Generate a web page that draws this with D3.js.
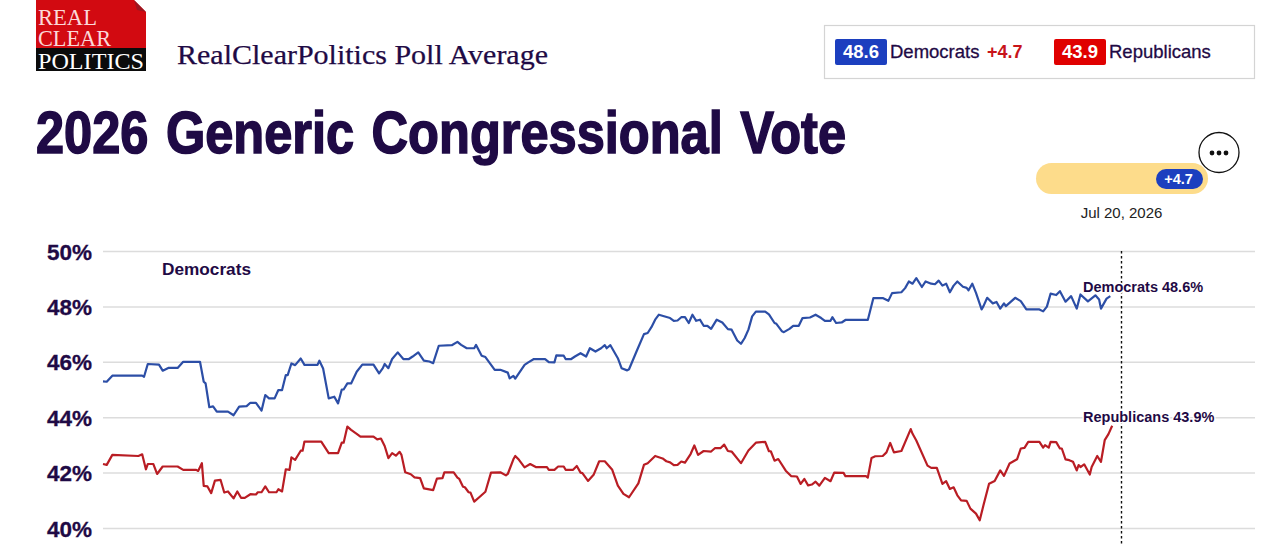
<!DOCTYPE html>
<html>
<head>
<meta charset="utf-8">
<script src="https://cdn.jsdelivr.net/npm/d3@7"></script>
<style>
  html, body { margin: 0; background: #fff; overflow: hidden; }
  text { font-family: "Liberation Sans", sans-serif; fill: #1f0a45; }
  .grid line { stroke: #dcdcdc; stroke-width: 1.5; }
  .grid path { display: none; }
  .grid text { font-size: 22.5px; font-weight: bold; stroke: #1f0a45; stroke-width: 0.3px; }
  .endlabel { font-size: 14.5px; font-weight: bold; paint-order: stroke; stroke: #fff; stroke-width: 3px; }
</style>
</head>
<body>
<div id="chart"></div>
<script>
const yTicks = [40, 42, 44, 46, 48, 50];

// days since the start of the series, and the average on that day
const demDays = [0,2,5,21,22,24,30,32,35,40,43,52,54,55,57,59,61,67,70,73,77,79,82,85,87,89,92,94,96,98,99,101,103,106,108,115,116,118,121,124,126,128,129,131,133,136,139,145,148,150,151,153,155,158,161,164,166,169,172,175,177,180,187,190,192,195,199,200,203,205,210,213,217,218,220,221,226,228,231,237,239,242,243,247,248,251,253,256,259,261,264,267,269,270,272,276,278,281,282,286,290,292,294,296,298,304,306,308,310,312,314,316,318,320,322,324,326,329,332,335,337,340,342,344,346,348,350,355,357,360,361,364,365,368,370,373,375,379,382,385,387,390,391,393,396,398,410,413,418,421,423,428,430,432,434,436,439,441,444,446,448,450,452,454,456,458,461,463,464,466,468,471,472,474,477,479,481,483,484,489,492,495,502,504,506,508,511,513,516,519,522,524,528,532,534,535,538,540];
const demValues = [45.29,45.28,45.5,45.5,45.46,45.92,45.9,45.68,45.78,45.78,46,46,45.28,45.22,44.36,44.39,44.2,44.2,44.07,44.38,44.4,44.52,44.52,44.24,44.8,44.68,44.68,44.98,44.98,45.52,45.52,45.94,45.88,46.12,45.89,45.89,46.04,45.76,44.68,44.74,44.5,45,45,45.22,45.22,45.64,45.9,45.9,45.58,45.77,45.92,45.77,46.1,46.34,46.1,46.1,46.19,46.34,46.04,46.01,45.95,46.58,46.6,46.72,46.61,46.49,46.49,46.61,46.22,46.17,45.71,45.71,45.61,45.4,45.49,45.39,45.89,45.98,46.1,46.1,45.99,45.98,46.23,46.22,46.1,46.1,46.19,46.31,46.19,46.49,46.37,46.49,46.6,46.49,46.6,46.13,45.77,45.69,45.73,46.37,47,47.04,47.25,47.52,47.7,47.58,47.48,47.49,47.61,47.61,47.4,47.7,47.48,47.52,47.3,47.3,47.19,47.52,47.42,47.18,47.16,46.77,46.65,46.86,47.16,47.64,47.81,47.81,47.71,47.4,47.37,47.1,47.07,47.19,47.3,47.3,47.58,47.6,47.7,47.58,47.48,47.48,47.61,47.4,47.42,47.51,47.51,48.3,48.3,48.2,48.48,48.51,48.66,48.9,48.82,49.02,48.7,48.9,48.82,48.8,48.93,48.75,48.82,48.51,48.75,48.9,48.71,48.67,48.58,48.82,48.49,47.89,48.01,48.31,48.11,48.16,47.92,48.11,48.01,48.31,48.19,47.89,47.89,47.82,47.99,48.46,48.41,48.55,48.17,48.37,47.92,48.43,48.18,48.4,48.25,47.92,48.28,48.37];

const repDays = [0,2,5,19,21,23,24,27,29,32,40,43,50,51,53,54,56,58,60,63,65,67,70,72,74,76,79,82,83,85,87,89,93,94,96,98,100,101,103,106,107,108,117,121,126,128,129,131,133,136,138,145,147,149,151,153,155,157,159,160,162,165,167,170,172,177,179,182,183,188,190,191,193,194,196,197,199,202,205,208,213,216,217,220,221,223,226,229,232,238,239,242,244,247,248,252,254,256,257,260,263,266,269,273,276,279,282,287,290,292,296,300,302,304,306,308,310,312,315,317,319,322,326,328,331,333,335,337,342,346,350,355,357,358,360,362,366,369,372,374,376,378,380,382,384,387,390,392,397,398,409,410,412,414,418,420,422,424,428,433,434,436,442,444,447,450,452,454,456,458,460,463,465,468,470,472,475,478,481,483,486,490,492,494,496,502,504,505,507,508,511,513,514,516,518,520,522,523,524,526,529,530,533,535,537,539,541];
const repValues = [42.31,42.28,42.64,42.6,42.66,42.12,42.31,42.31,41.95,42.22,42.22,42.1,42.1,42.06,42.34,41.52,41.5,41.26,41.71,41.74,41.28,41.32,41.07,41.32,41.09,41.09,41.22,41.21,41.29,41.29,41.5,41.29,41.29,41.4,41.32,42.12,42.1,42.55,42.46,42.79,42.79,43.12,43.12,42.7,42.7,43.08,43.08,43.66,43.54,43.4,43.3,43.3,43.2,43.23,42.96,42.52,42.7,42.61,42.75,42.64,42.01,41.94,41.83,41.8,41.43,41.37,41.78,41.8,42.01,42.01,41.82,41.77,41.49,41.47,41.29,41.28,40.95,41.13,41.31,42,42.01,41.9,41.95,42.48,42.6,42.46,42.19,42.31,42.2,42.2,42.1,42.1,42.22,42.22,42.1,42.1,42.24,42,41.98,41.7,41.92,42.41,42.41,42.1,41.53,41.23,41.11,41.61,42.28,42.34,42.6,42.51,42.41,42.37,42.27,42.28,42.4,42.36,42.67,42.98,42.64,42.78,42.76,42.88,42.88,43.01,42.78,42.76,42.34,42.8,43.08,43.11,42.77,42.77,42.43,42.49,42.07,41.87,41.86,41.59,41.77,41.54,41.57,41.67,41.53,41.81,41.69,42,41.99,41.87,41.87,41.82,42.53,42.59,42.6,42.73,43.07,42.73,42.78,43.57,43.4,43.16,42.25,42.17,42.17,41.59,41.69,41.41,41.47,41.18,41,40.98,40.7,40.52,40.28,40.82,41.6,41.7,42.08,41.88,42.33,42.48,42.87,42.89,43.11,43.11,42.9,42.99,42.9,43.11,43.1,42.87,42.87,42.48,42.45,42.39,42.08,42.27,42.2,42.3,41.93,42.2,42.6,42.39,43.17,43.39,43.69];

const startDate = new Date(2025, 0, 20);
const endDate = new Date(2026, 6, 20);
const demLatest = 48.6;
const repLatest = 43.9;
const spread = '+4.7';

const width = 1280;
const height = 544;
const navy = '#1f0a45';
const blue = '#1c3fbf';
const red = '#e00000';

const svg = d3.select('#chart')
  .append('svg')
    .attr('width', width)
    .attr('height', height)
    .style('display', 'block');

const x = d3.scaleTime().domain([startDate, endDate]).range([103, 1121.5]);
const y = d3.scaleLinear().domain([40, 50]).range([528, 251]);

// logo
const logo = svg.append('g');
logo.append('path')
  .attr('d', 'M36,0H134L146,12V48H36Z')
  .attr('fill', '#d20a11');
logo.append('path')
  .attr('d', 'M134,0L146,12L137,10Z')
  .attr('fill', '#9c1620');
logo.append('rect').attr('x', 36).attr('y', 48).attr('width', 110).attr('height', 23).attr('fill', '#0b0b0b');
[['REAL', 25, 59, '#fbd9d9'], ['CLEAR', 46, 73, '#fbd9d9'], ['POLITICS', 69, 106, '#fff']].forEach(d => {
  logo.append('text')
    .attr('x', 38).attr('y', d[1])
    .attr('textLength', d[2])
    .attr('lengthAdjust', 'spacingAndGlyphs')
    .style('font-family', '"Liberation Serif", serif')
    .style('font-size', '24px')
    .style('fill', d[3])
    .text(d[0]);
});

svg.append('text')
  .attr('x', 177).attr('y', 64)
  .attr('textLength', 371)
  .attr('lengthAdjust', 'spacingAndGlyphs')
  .style('font-family', '"Liberation Serif", serif')
  .style('font-size', '28px')
  .style('stroke', navy)
  .style('stroke-width', '0.25px')
  .text('RealClearPolitics Poll Average');

svg.append('text')
  .attr('x', 36).attr('y', 153)
  .attr('textLength', 810)
  .attr('lengthAdjust', 'spacingAndGlyphs')
  .style('font-family', '"Liberation Sans Narrow", "Liberation Sans", sans-serif')
  .style('font-size', '60px')
  .style('font-weight', 'bold')
  .style('word-spacing', '4px')
  .style('stroke', navy)
  .style('stroke-width', '1.6px')
  .text('2026 Generic Congressional Vote');

// legend box
const legend = svg.append('g');
legend.append('rect')
  .attr('x', 824.5).attr('y', 25.5).attr('width', 430).attr('height', 53)
  .attr('fill', '#fff').attr('stroke', '#d4d4d4').attr('stroke-width', 1.2);

function badge(xPos, fill, value) {
  legend.append('rect')
    .attr('x', xPos).attr('y', 39).attr('width', 52).attr('height', 26).attr('rx', 2)
    .attr('fill', fill);
  legend.append('text')
    .attr('x', xPos + 26).attr('y', 58)
    .attr('text-anchor', 'middle')
    .style('font-size', '18.5px').style('font-weight', 'bold').style('fill', '#fff')
    .text(value.toFixed(1));
}
badge(835, blue, demLatest);
badge(1054, red, repLatest);

legend.append('text').attr('x', 890).attr('y', 58).style('font-size', '18.5px').style('stroke', navy).style('stroke-width', '0.3px').text('Democrats');
legend.append('text').attr('x', 987).attr('y', 58).style('font-size', '18px').style('font-weight', 'bold').style('fill', '#c8141a').text(spread);
legend.append('text').attr('x', 1109).attr('y', 58).style('font-size', '18.5px').style('stroke', navy).style('stroke-width', '0.3px').text('Republicans');

// spread pill and menu button
svg.append('rect')
  .attr('x', 1036).attr('y', 163).attr('width', 172).attr('height', 31).attr('rx', 15.5)
  .attr('fill', '#fddc8b');
svg.append('rect')
  .attr('x', 1156).attr('y', 169).attr('width', 47).attr('height', 20).attr('rx', 10)
  .attr('fill', blue);
svg.append('text')
  .attr('x', 1178.5).attr('y', 184)
  .attr('text-anchor', 'middle')
  .style('font-size', '14.5px').style('font-weight', 'bold').style('fill', '#fff')
  .text(spread);

svg.append('circle')
  .attr('cx', 1219).attr('cy', 152.5).attr('r', 20)
  .attr('fill', '#fff').attr('stroke', '#111').attr('stroke-width', 1.3);
[-7, 0, 7].forEach(dx => {
  svg.append('circle').attr('cx', 1219 + dx).attr('cy', 153).attr('r', 2.4).attr('fill', '#111');
});

svg.append('text')
  .attr('x', 1121.5).attr('y', 218)
  .attr('text-anchor', 'middle')
  .style('font-size', '15px').style('fill', '#222')
  .text(d3.timeFormat('%b %-d, %Y')(endDate));

// y axis with gridlines
svg.append('g')
  .attr('class', 'grid')
  .attr('transform', 'translate(103,0)')
  .call(
    d3.axisLeft(y)
      .tickValues(yTicks)
      .tickSize(-1152)
      .tickPadding(11)
      .tickFormat(d => d + '%')
  )
  .selectAll('text')
    .attr('dy', '0.36em');

svg.append('line')
  .attr('x1', 1121.5).attr('x2', 1121.5)
  .attr('y1', 251).attr('y2', height)
  .attr('stroke', '#111')
  .attr('stroke-width', 1.4)
  .attr('stroke-dasharray', '2.5,2.5');

const line = d3.line()
  .x(d => x(d3.timeDay.offset(startDate, d[0])))
  .y(d => y(d[1]));

svg.append('path')
  .datum(d3.zip(demDays, demValues))
  .attr('fill', 'none')
  .attr('stroke', '#2c4ea6')
  .attr('stroke-width', 2.2)
  .attr('stroke-linejoin', 'round')
  .attr('d', line);

svg.append('path')
  .datum(d3.zip(repDays, repValues))
  .attr('fill', 'none')
  .attr('stroke', '#b91d24')
  .attr('stroke-width', 2.2)
  .attr('stroke-linejoin', 'round')
  .attr('d', line);

svg.append('text')
  .attr('x', 162).attr('y', 275)
  .style('font-size', '16px').style('font-weight', 'bold')
  .attr('textLength', 89)
  .attr('lengthAdjust', 'spacingAndGlyphs')
  .text('Democrats');

svg.append('text').attr('class', 'endlabel')
  .attr('x', 1083).attr('y', 292)
  .text('Democrats ' + demLatest + '%');
svg.append('text').attr('class', 'endlabel')
  .attr('x', 1083).attr('y', 422)
  .text('Republicans ' + repLatest + '%');
</script>
</body>
</html>
